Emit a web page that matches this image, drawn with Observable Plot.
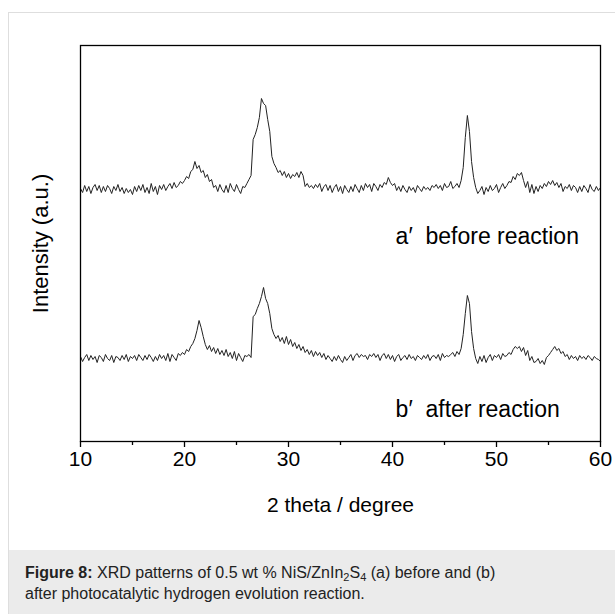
<!DOCTYPE html>
<html>
<head>
<meta charset="utf-8">
<script src="https://cdn.jsdelivr.net/npm/d3@7"></script>
<script src="https://cdn.jsdelivr.net/npm/@observablehq/plot@0.6"></script>
<style>
  html, body { margin: 0; padding: 0; background: #fff; }
  body { width: 615px; height: 614px; position: relative; overflow: hidden; font-family: "Liberation Sans", Arial, sans-serif; }
  #fig { position: absolute; left: 8px; top: 12px; right: 0; bottom: 0; border-left: 1px solid #dedede; border-top: 1px solid #dedede; }
  #chart { height: 537px; }
  #caption { position: absolute; left: 0; right: 0; top: 537px; bottom: 0; background: #ebebeb; color: #222; font-size: 16px; line-height: 21px; padding: 12px 16px 0 16px; }
  #caption .txt { width: 500px; }
  #caption sub { font-size: 11px; vertical-align: -3px; line-height: 0; }
  #chart text { white-space: pre; }
</style>
</head>
<body>
<div id="fig">
  <div id="chart"></div>
  <div id="caption"><div class="txt"><b>Figure 8:</b> XRD patterns of 0.5 wt % NiS/ZnIn<sub>2</sub>S<sub>4</sub> (a) before and (b)<br>after photocatalytic hydrogen evolution reaction.</div></div>
</div>
<script>
// ---- data (2θ grid: 10° to 60°, 0.2° steps) ----
const thetaStart = 10;
const thetaStep = 0.2;

// a′ before reaction (intensity above its own baseline, a.u.)
const intensityA = [
  1,-3,4,-2,3,-4,2,5,-1,4,
  -3,3,-2,4,1,-4,3,-1,5,-2,
  2,-4,1,-3,0,-5,3,-2,4,-1,
  5,-3,2,-4,6,-2,3,-5,4,0,
  5,-1,3,6,1,7,2,4,8,6,
  9,13,11,18,20,28,21,24,17,19,
  12,15,8,10,2,4,-2,5,0,-3,
  4,-3,6,1,-2,5,0,-4,3,2,
  6,10,14,50,55,62,72,91,86,84,70,58,33,26,22,
  17,19,14,18,12,
  16,11,15,13,17,12,18,14,3,6,
  2,4,1,5,2,6,-2,3,5,-1,
  4,-3,2,5,-2,3,-4,4,0,-3,
  3,-2,5,1,-3,4,-1,6,2,5,
  -2,6,3,-1,5,2,7,5,12,7,
  4,6,-1,3,-2,4,0,-3,3,-1,
  2,-3,4,1,-2,3,0,2,-1,4,
  2,5,1,4,-1,6,2,3,8,1,
  3,6,2,9,22,52,74,58,28,12,
  2,-4,-1,3,-5,2,-2,4,-1,1,
  5,-3,2,6,1,4,8,7,13,10,
  16,14,17,9,2,8,-3,5,-4,3,
  -2,4,1,6,3,8,5,9,4,7,
  2,6,-2,3,1,5,-1,4,2,-3,
  3,-2,4,1,-3,5,0,-2,3,-1,2
];

// b′ after reaction
const intensityB = [
  2,-3,1,4,-2,3,-1,2,-4,3,
  1,-3,4,0,-2,3,-4,2,1,-2,
  3,-1,4,-3,2,0,3,-2,4,1,
  -2,3,-1,4,1,-3,2,-2,4,0,
  3,-2,5,-3,4,1,-2,5,3,6,
  4,9,7,12,15,20,28,38,31,22,
  14,9,13,7,11,5,10,4,8,3,
  9,2,6,0,7,-2,5,1,-3,3,
  2,4,1,42,44,50,55,62,71,60,55,45,30,24,20,
  23,17,21,15,22,
  14,19,12,16,10,14,8,12,6,9,
  4,8,2,7,3,6,1,5,-1,3,
  0,-3,2,-2,3,-1,-4,2,-2,1,
  4,-2,3,5,1,4,2,3,-1,4,
  2,5,1,4,-2,3,5,0,4,-1,
  3,-3,2,4,-2,1,3,-1,4,0,
  2,-2,3,1,-1,3,0,4,-2,2,
  3,0,4,-2,5,1,3,2,4,6,
  2,7,4,10,24,45,63,55,27,10,
  0,-5,2,-3,3,-4,1,4,-2,3,
  1,4,-1,5,2,3,6,4,9,12,
  10,12,7,11,3,8,-2,2,-4,-3,
  0,-5,-2,-6,1,3,6,9,12,8,
  10,5,7,2,4,-1,3,0,2,-2,
  3,0,2,-1,3,1,-2,2,0,-1,-3
];

// vertical stacking offsets of the two patterns (a.u.)
const seriesNames = ["a", "b"];
const seriesOffsets = [252, 83];

// axis ticks and labels
const majorTicks = [10, 20, 30, 40, 50, 60];
const minorTicks = [15, 25, 35, 45, 55];
const xLabel = "2 theta / degree";
const yLabel = "Intensity (a.u.)";
const curveLabels = ["a\u2032  before reaction", "b\u2032  after reaction"];
const curveLabelTheta = [40.3, 40.3];
const curveLabelIntensity = [205, 32];

// ---- build table ----
const rows = [];
[intensityA, intensityB].forEach((arr, s) => {
  arr.forEach((v, i) => {
    rows.push({series: seriesNames[s], theta: thetaStart + i * thetaStep, intensity: v + seriesOffsets[s]});
  });
});
const labels = curveLabels.map((t, i) => ({text: t, theta: curveLabelTheta[i], intensity: curveLabelIntensity[i]}));

const chart = Plot.plot({
  width: 606,
  height: 537,
  marginLeft: 71,
  marginRight: 15,
  marginTop: 32,
  marginBottom: 109,
  style: {fontFamily: "'Liberation Sans', Arial, sans-serif", fontSize: "21px", color: "#000", background: "transparent"},
  x: {domain: [10, 60]},
  y: {domain: [0, 396], axis: null},
  marks: [
    Plot.line(rows, {x: "theta", y: "intensity", z: "series", stroke: "#222", strokeWidth: 1, curve: "linear"}),
    Plot.frame({stroke: "#000", strokeWidth: 1.3}),
    Plot.axisX(majorTicks, {tickSize: 6, tickPadding: 4, tickFormat: d => String(d), label: null, fontSize: 21, stroke: "#000", strokeWidth: 1.3}),
    Plot.axisX(minorTicks, {tickSize: 4, tickFormat: () => "", label: null, stroke: "#000", strokeWidth: 1.3}),
    Plot.text(labels, {x: "theta", y: "intensity", text: "text", textAnchor: "start", fontSize: 23, fill: "#000"}),
    Plot.text([xLabel], {frameAnchor: "bottom", dy: 70, text: d => d, fontSize: 21, fill: "#000"}),
    Plot.text([yLabel], {frameAnchor: "left", textAnchor: "middle", dx: -40, rotate: -90, text: d => d, fontSize: 22, fill: "#000"})
  ]
});
document.getElementById("chart").appendChild(chart);
</script>
</body>
</html>
